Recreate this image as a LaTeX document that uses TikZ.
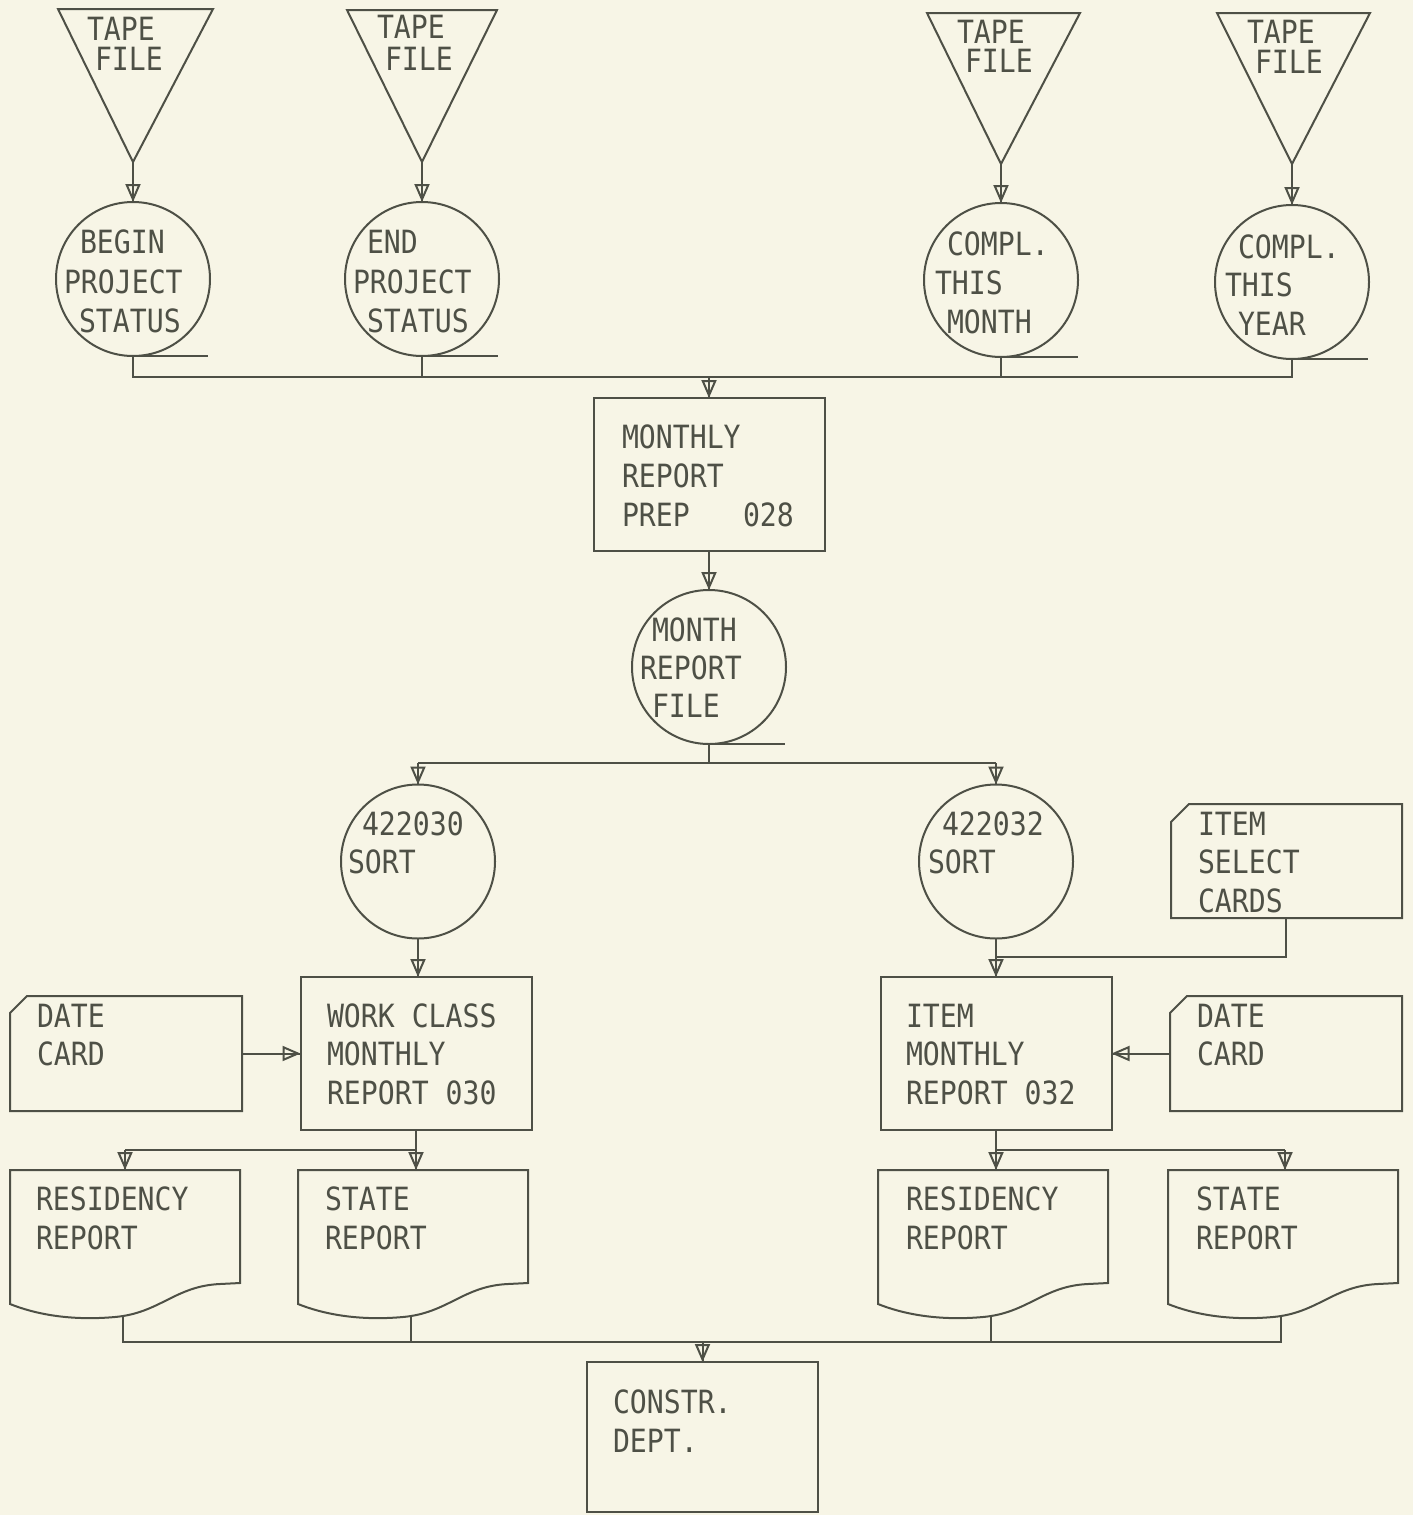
\documentclass[tikz,border=0pt]{standalone}
\usepackage{fontspec}
\setmonofont{DejaVu Sans Mono}[FakeStretch=0.88]
\usetikzlibrary{arrows.meta}
\definecolor{paper}{RGB}{247,245,230}
\definecolor{ink}{RGB}{78,80,70}
\begin{document}
\begin{tikzpicture}[x=0.5pt,y=-0.5pt, line width=1pt, draw=ink,
  every node/.style={inner sep=0pt, outer sep=0pt},
  txt/.style={font=\ttfamily\fontsize{16}{18}\selectfont, anchor=base west, text=ink},
  circ/.style={circle, draw=ink, minimum size=77pt},
  box/.style={rectangle, draw=ink, minimum width=115.5pt, minimum height=76.5pt},
  arr/.style={preaction={draw=ink,-}, -{Triangle[open, length=9pt, width=7.5pt]}},
]
\fill[paper] (0,0) rectangle (1413,1515);
\useasboundingbox (0,0) rectangle (1413,1515);

% ---------- tape files ----------
\draw (58,9) -- (213,9) -- (133,162) -- cycle;
\draw (347,10) -- (497,10) -- (422,162) -- cycle;
\draw (927,13) -- (1080,13) -- (1001,164) -- cycle;
\draw (1217,13) -- (1370,13) -- (1292,164) -- cycle;
\coordinate (t1) at (133,162);
\coordinate (t2) at (422,162);
\coordinate (t3) at (1001,164);
\coordinate (t4) at (1292,164);
\node[txt] (t1a) at (87,40) {TAPE};
\node[txt] (t1b) at (95,70) {FILE};
\node[txt] (t2a) at (377,39) {TAPE};
\node[txt] (t2b) at (385,70) {FILE};
\node[txt] (t3a) at (957,43) {TAPE};
\node[txt] (t3b) at (965,72) {FILE};
\node[txt] (t4a) at (1247,43) {TAPE};
\node[txt] (t4b) at (1255,73) {FILE};

% ---------- top tape circles ----------
\node[circ] (c1) at (133,279) {};
\node[circ] (c2) at (422,279) {};
\node[circ] (c3) at (1001,280) {};
\node[circ] (c4) at (1292,282) {};
\draw (c1.south) -- ++(75,0);
\draw (c2.south) -- ++(76,0);
\draw (c3.south) -- ++(77,0);
\draw (c4.south) -- ++(76,0);
\draw[arr] (t1) -- (c1.north);
\draw[arr] (t2) -- (c2.north);
\draw[arr] (t3) -- (c3.north);
\draw[arr] (t4) -- (c4.north);
\node[txt] (c1a) at (80,253) {BEGIN};
\node[txt] (c1b) at (64,293) {PROJECT};
\node[txt] (c1c) at (79,332) {STATUS};
\node[txt] (c2a) at (367,253) {END};
\node[txt] (c2b) at (353,293) {PROJECT};
\node[txt] (c2c) at (367,332) {STATUS};
\node[txt] (c3a) at (947,255) {COMPL.};
\node[txt] (c3b) at (935,294) {THIS};
\node[txt] (c3c) at (947,333) {MONTH};
\node[txt] (c4a) at (1238,258) {COMPL.};
\node[txt] (c4b) at (1225,296) {THIS};
\node[txt] (c4c) at (1238,335) {YEAR};

% ---------- monthly report prep ----------
\coordinate (bus1) at (709,377);
\node[box] (prep) at (709,474.5) {};
\draw (c1.south) -- (c1.south |- bus1) -- (c4.south |- bus1) -- (c4.south);
\draw (c2.south) -- (c2.south |- bus1);
\draw (c3.south) -- (c3.south |- bus1);
\draw[arr] (bus1) -- (prep.north);
\node[txt] (pa) at (622,448) {MONTHLY};
\node[txt] (pb) at (622,487) {REPORT};
\node[txt] (pc) at (622,526) {PREP};
\node[txt] (pd) at (743,526) {028};

% ---------- month report file ----------
\node[circ] (mrf) at (709,667) {};
\draw (mrf.south) -- ++(76,0);
\draw[arr] (prep.south) -- (mrf.north);
\node[txt] (ma) at (652,641) {MONTH};
\node[txt] (mb) at (640,679) {REPORT};
\node[txt] (mc) at (652,717) {FILE};

% ---------- sorts ----------
\coordinate (bus2) at (709,763);
\node[circ] (sl) at (418,861.5) {};
\node[circ] (sr) at (996,861.5) {};
\draw (mrf.south) -- (bus2);
\draw (sl.north |- bus2) -- (sr.north |- bus2);
\draw[arr] (sl.north |- bus2) -- (sl.north);
\draw[arr] (sr.north |- bus2) -- (sr.north);
\node[txt] (sla) at (362,835) {422030};
\node[txt] (slb) at (348,873) {SORT};
\node[txt] (sra) at (942,835) {422032};
\node[txt] (srb) at (928,873) {SORT};

% ---------- item select cards ----------
\draw (1171,822) -- (1189,804) -- (1402,804) -- (1402,918) -- (1171,918) -- cycle;
\coordinate (isc) at (1286,918);
\node[txt] (ia) at (1198,835) {ITEM};
\node[txt] (ib) at (1198,873) {SELECT};
\node[txt] (ic) at (1198,912) {CARDS};

% ---------- report programs ----------
\node[box] (wcm) at (416,1053.5) {};
\node[box] (imr) at (996,1053.5) {};
\draw[arr] (sl.south) -- (sl.south |- wcm.north);
\draw[arr] (sr.south) -- (imr.north);
\coordinate (j1) at (996,957);
\draw (isc) |- (j1);
\node[txt] (wa) at (327,1027) {WORK CLASS};
\node[txt] (wb) at (327,1065) {MONTHLY};
\node[txt] (wc) at (327,1104) {REPORT 030};
\node[txt] (iia) at (906,1027) {ITEM};
\node[txt] (iib) at (906,1065) {MONTHLY};
\node[txt] (iic) at (906,1104) {REPORT 032};

% ---------- date cards ----------
\draw (10,1013) -- (27,996) -- (242,996) -- (242,1111) -- (10,1111) -- cycle;
\draw (1170,1013) -- (1187,996) -- (1402,996) -- (1402,1111) -- (1170,1111) -- cycle;
\coordinate (dcl) at (242,1053.5);
\coordinate (dcr) at (1170,1053.5);
\draw[arr] (dcl) -- (wcm.west);
\draw[arr] (dcr) -- (imr.east);
\node[txt] (da) at (37,1027) {DATE};
\node[txt] (db) at (37,1065) {CARD};
\node[txt] (dra) at (1197,1027) {DATE};
\node[txt] (drb) at (1197,1065) {CARD};

% ---------- documents ----------
\newcommand{\docshape}[2]{%
  \draw (#1,#2) -- (#1+230,#2) -- (#1+230,#2+113) -- (#1+210,#2+114)
    .. controls (#1+165,#2+116) and (#1+150,#2+143) .. (#1+105,#2+147)
    .. controls (#1+60,#2+151) and (#1+25,#2+144) .. (#1,#2+134) -- cycle;}
\docshape{10}{1170}
\docshape{298}{1170}
\docshape{878}{1170}
\docshape{1168}{1170}
\coordinate (rlt) at (125,1170);
\coordinate (slt) at (416,1170);
\coordinate (rrt) at (996,1170);
\coordinate (srt) at (1285,1170);
\coordinate (b3a) at (125,1150);
\coordinate (b3b) at (416,1150);
\coordinate (b3c) at (996,1150);
\coordinate (b3d) at (1285,1150);
\draw (wcm.south) -- (b3b) -- (b3a);
\draw (imr.south) -- (b3c) -- (b3d);
\draw[arr] (b3a) -- (rlt);
\draw[arr] (b3b) -- (slt);
\draw[arr] (b3c) -- (rrt);
\draw[arr] (b3d) -- (srt);
\node[txt] (ra) at (36,1210) {RESIDENCY};
\node[txt] (rb) at (36,1249) {REPORT};
\node[txt] (sa) at (325,1210) {STATE};
\node[txt] (sb) at (325,1249) {REPORT};
\node[txt] (rra) at (906,1210) {RESIDENCY};
\node[txt] (rrb) at (906,1249) {REPORT};
\node[txt] (ssa) at (1196,1210) {STATE};
\node[txt] (ssb) at (1196,1249) {REPORT};

% ---------- constr dept ----------
\coordinate (rlb) at (123,1316);
\coordinate (slb) at (411,1316);
\coordinate (rrb) at (991,1316);
\coordinate (srb) at (1281,1316);
\coordinate (b4a) at (123,1342);
\coordinate (b4d) at (1281,1342);
\node[box, minimum height=75pt] (cd) at (702.5,1437) {};
\draw (rlb) -- (b4a) -- (b4d) -- (srb);
\draw (slb) -- (slb |- b4a);
\draw (rrb) -- (rrb |- b4a);
\draw[arr] (cd.north |- b4a) -- (cd.north);
\node[txt] (cda) at (613,1413) {CONSTR.};
\node[txt] (cdb) at (613,1452) {DEPT.};
\end{tikzpicture}
\end{document}
